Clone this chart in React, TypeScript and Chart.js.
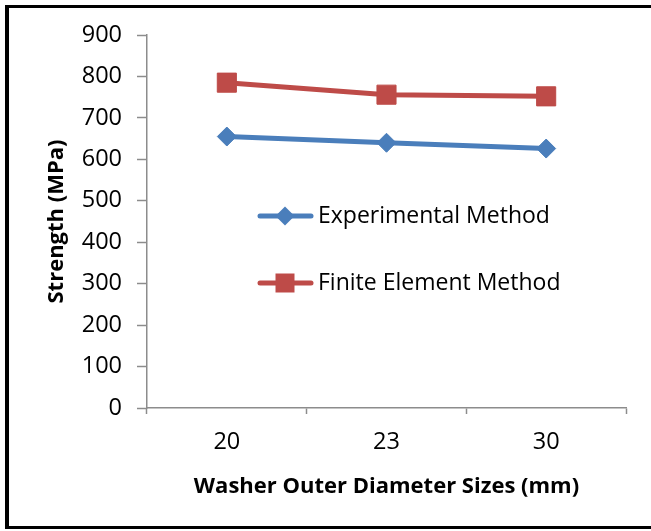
import React, { useEffect, useRef } from "react";
import { Chart, registerables } from "chart.js";

Chart.register(...registerables);

const categories = ["20", "23", "30"];
const experimental = [655, 640, 626];
const finiteElement = [785, 756, 752];
const seriesNames = ["Experimental Method", "Finite Element Method"];
const yTitle = "Strength (MPa)";
const xTitle = "Washer Outer Diameter Sizes (mm)";
const yMin = 0;
const yMax = 900;
const yStep = 100;

const BLUE = "#4A7EBB";
const RED = "#BE4B48";
const AXIS = "#8C8C8C";
const FONT = "'Open Sans', sans-serif";

const frame = {
  id: "frame",
  afterDraw(chart: any) {
    const ctx = chart.ctx;
    ctx.save();
    ctx.fillStyle = "#000";
    ctx.fillRect(5, 5, 4, 524);
    ctx.fillRect(5, 5, 646, 3);
    ctx.fillRect(5, 526, 646, 3);
    ctx.restore();
  },
};

const legendBox = {
  id: "legendBox",
  afterDraw(chart: any) {
    const ctx = chart.ctx;
    const items = [
      { label: seriesNames[0], color: BLUE, shape: "diamond", y: 216 },
      { label: seriesNames[1], color: RED, shape: "square", y: 283 },
    ];
    ctx.save();
    items.forEach((it) => {
      ctx.strokeStyle = it.color;
      ctx.lineWidth = 5;
      ctx.lineCap = "round";
      ctx.beginPath();
      ctx.moveTo(260, it.y);
      ctx.lineTo(311, it.y);
      ctx.stroke();
      ctx.fillStyle = it.color;
      ctx.beginPath();
      if (it.shape === "diamond") {
        ctx.moveTo(285, it.y - 9.5);
        ctx.lineTo(294.5, it.y);
        ctx.lineTo(285, it.y + 9.5);
        ctx.lineTo(275.5, it.y);
        ctx.closePath();
      } else {
        ctx.rect(275.5, it.y - 9.5, 19, 19);
      }
      ctx.fill();
      ctx.fillStyle = "#000";
      ctx.font = `23px ${FONT}`;
      ctx.textAlign = "left";
      ctx.textBaseline = "middle";
      ctx.fillText(it.label, 318, it.y);
    });
    ctx.restore();
  },
};

export default function App() {
  const ref = useRef<HTMLCanvasElement>(null);
  useEffect(() => {
    document.body.style.margin = "0";
    const chart = new Chart(ref.current!, {
      type: "line",
      data: {
        labels: categories,
        datasets: [
          {
            label: seriesNames[0],
            data: experimental,
            borderColor: BLUE,
            backgroundColor: BLUE,
            borderWidth: 5,
            pointStyle: "rectRot",
            pointRadius: 9.5,
            pointBorderWidth: 1,
            tension: 0,
          },
          {
            label: seriesNames[1],
            data: finiteElement,
            borderColor: RED,
            backgroundColor: RED,
            borderWidth: 5,
            pointStyle: "rect",
            pointRadius: 13.5,
            pointBorderWidth: 1,
            tension: 0,
          },
        ],
      },
      options: {
        animation: false,
        responsive: false,
        maintainAspectRatio: false,
        layout: { padding: { top: 35, right: 25, left: 0, bottom: 0 } },
        plugins: { legend: { display: false }, tooltip: { enabled: false } },
        scales: {
          x: {
            type: "category",
            offset: true,
            grid: { display: true, offset: true, drawOnChartArea: false, tickLength: 6, color: AXIS, tickWidth: 1.5 },
            border: { display: true, color: AXIS, width: 1.5 },
            ticks: { color: "#000", font: { family: FONT, size: 23.5 }, padding: 14, maxRotation: 0 },
            title: {
              display: true,
              text: xTitle,
              color: "#000",
              font: { family: FONT, size: 22, weight: "bold" },
              padding: { top: 0, bottom: 31 },
            },
            afterFit(scale: any) {
              scale.height = 123;
            },
          },
          y: {
            min: yMin,
            max: yMax,
            grid: { display: true, drawOnChartArea: false, tickLength: 10, color: AXIS, tickWidth: 1.5 },
            border: { display: true, color: AXIS, width: 1.5 },
            ticks: { stepSize: yStep, color: "#000", font: { family: FONT, size: 23.5 }, padding: 15 },
            title: {
              display: true,
              text: yTitle,
              color: "#000",
              font: { family: FONT, size: 22, weight: "bold" },
              padding: { top: 44, bottom: 0 },
            },
            afterFit(scale: any) {
              scale.width = 147;
            },
          },
        },
      },
      plugins: [frame, legendBox],
    });
    return () => chart.destroy();
  }, []);
  return <canvas ref={ref} width={651} height={531} style={{ display: "block" }} />;
}
